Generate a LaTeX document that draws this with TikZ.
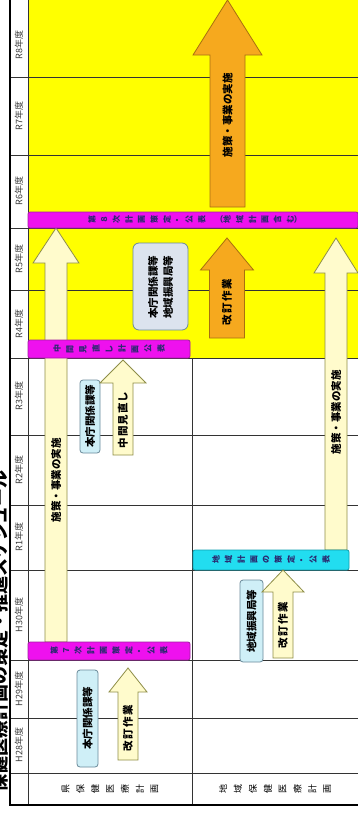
\documentclass[tikz,border=0pt]{standalone}
\usepackage{fontspec}
\usepackage{graphicx}
\setmainfont{Noto Sans CJK JP}
\makeatletter
\newcommand\tate[2]{\@tfor\tt@c:=#2\do{\rotatebox[origin=c]{90}{\tt@c}\hspace{#1}}\unskip}
\makeatother
\definecolor{yel}{HTML}{FFFF00}
\definecolor{mag}{HTML}{EE11EE}
\definecolor{magd}{HTML}{A020A0}
\definecolor{cya}{HTML}{22DDF0}
\definecolor{cyad}{HTML}{10A0B0}
\definecolor{lyel}{HTML}{FFFBCC}
\definecolor{lyeld}{HTML}{8E8E48}
\definecolor{lblue}{HTML}{CFEFF7}
\definecolor{lblued}{HTML}{6A8A9A}
\definecolor{lgrey}{HTML}{DCE3EE}
\definecolor{org}{HTML}{F6A91E}
\definecolor{orgd}{HTML}{A87010}
\definecolor{bartxt}{HTML}{2A2A70}
\definecolor{gridc}{HTML}{333333}
\definecolor{yrtxt}{HTML}{3A3A3A}
\newcommand\uparr[7]{% style, xc, ytip, ybase, ybot, shaft half, head half
  \draw[#1] (#2-#6,#5) -- (#2-#6,#4) -- (#2-#7,#4) -- (#2,#3) -- (#2+#7,#4) -- (#2+#6,#4) -- (#2+#6,#5) -- cycle;}
\tikzset{
  grid/.style={draw=gridc, line width=0.8pt},
  thick border/.style={draw=black, line width=2pt},
  yr/.style={font=\fontsize{9}{9}\selectfont, text=yrtxt, inner sep=0pt},
  atxt/.style={font=\fontsize{10.5}{12}\selectfont\bfseries, text=black, inner sep=0pt, rotate=90},
  bartext/.style={font=\fontsize{8}{8}\selectfont\bfseries, text=bartxt, inner sep=0pt},
  magbar/.style={fill=mag, draw=magd, line width=0.8pt, rounded corners=2pt},
  cyabar/.style={fill=cya, draw=cyad, line width=0.8pt, rounded corners=2pt},
  pbox/.style={fill=lblue, draw=lblued, line width=0.8pt, rounded corners=3pt},
  gbox/.style={fill=lgrey, draw=lblued, line width=0.8pt, rounded corners=6pt},
  larrow/.style={fill=lyel, draw=lyeld, line width=0.8pt},
  oarrow/.style={fill=org, draw=orgd, line width=0.8pt},
}
\begin{document}
\begin{tikzpicture}[x=1pt,y=-1pt]
\useasboundingbox (0,0) rectangle (358,814);
\clip (0,0) rectangle (358,814);
\fill[white] (0,0) rectangle (358,814);
% yellow period
\fill[yel] (28,0) rectangle (358,358);
% year grid lines
\foreach \yy in {77,155,228,290,358,435,505,570,660,718,773}{
  \draw[grid] (10,\yy) -- (358,\yy);
}
\draw[grid] (28,0) -- (28,805);
\draw[grid] (192,358) -- (192,805);
\draw[thick border] (10,0) -- (10,805) -- (358,805);
% year labels
\node[yr, rotate=90] (r8) at (19,45) {R8年度};
\node[yr, rotate=90] (r7) at (19,116) {R7年度};
\node[yr, rotate=90] (r6) at (19,191) {R6年度};
\node[yr, rotate=90] (r5) at (19,259) {R5年度};
\node[yr, rotate=90] (r4) at (19,324) {R4年度};
\node[yr, rotate=90] (r3) at (19,396) {R3年度};
\node[yr, rotate=90] (r2) at (19,470) {R2年度};
\node[yr, rotate=90] (r1) at (19,537) {R1年度};
\node[yr, rotate=90] (h30) at (19,615) {H30年度};
\node[yr, rotate=90] (h29) at (19,689) {H29年度};
\node[yr, rotate=90] (h28) at (19,745) {H28年度};
% row labels
\node[font=\fontsize{9}{9}\selectfont, text=black, inner sep=0pt] (row1) at (110,789) {\tate{0.75em}{県保健医療計画}};
\node[font=\fontsize{9}{9}\selectfont, text=black, inner sep=0pt] (row2) at (275,789) {\tate{0.75em}{地域保健医療計画}};
% title (clipped at the page edge, as in the reference)
\node[rotate=90, anchor=east, font=\fontsize{18}{18}\selectfont\bfseries, inner sep=0pt] (title) at (0,470) {保健医療計画の策定・推進スケジュール};

% ---- row 1 ----
\uparr{larrow}{56}{228}{263}{642}{11}{23}
\node[atxt] (a1t) at (56,480) {施策・事業の実施};
\draw[pbox] (77,670) rectangle (98,767);
\node[atxt] (b1t) at (87.5,718) {本庁関係課等};
\uparr{larrow}{128}{668}{692}{760}{10}{19}
\node[atxt] (a2t) at (128,728) {\addfontfeature{LetterSpace=15}改訂作業};
\draw[magbar] (28,642) rectangle (190,660);
\node[bartext] (m1t) at (109,651) {\tate{0.65em}{第７次計画策定・公表}};

\draw[pbox] (80,380) rectangle (100,453);
\node[atxt] (b2t) at (90,416) {本庁関係課等};
\uparr{larrow}{123}{360}{383}{455}{10}{23}
\node[atxt] (a3t) at (123,420) {\addfontfeature{LetterSpace=10}中間見直し};
\draw[magbar] (28,340) rectangle (190,358);
\node[bartext] (m2t) at (109,349) {\tate{0.7em}{中間見直し計画公表}};

% ---- yellow period ----
\draw[gbox] (133,243) rectangle (188,330);
\node[atxt, align=center] (b3t) at (160.5,287) {本庁関係課等\\[3pt]地域振興局等};
\uparr{oarrow}{227}{238}{270}{338}{17.5}{26.5}
\node[atxt] (a4t) at (227,302) {\addfontfeature{LetterSpace=15}改訂作業};
\uparr{larrow}{336}{238}{273}{550}{11}{22}
\node[atxt] (a5t) at (336,412) {施策・事業の実施};
\uparr{oarrow}{227.5}{0}{55}{207}{17.5}{34.5}
\node[atxt] (a6t) at (227.5,115) {施策・事業の実施};
\draw[magbar] (28,212) rectangle (358,228);
\node[bartext] (m3t) at (195,220) {\tate{0.65em}{第８次計画策定・公表}\hspace{1.2em}（\tate{0.65em}{地域計画含む}）};

% ---- row 2 ----
\draw[cyabar] (193,550) rectangle (349,570);
\node[bartext] (c1t) at (271,560) {\tate{0.65em}{地域計画の策定・公表}};
\draw[pbox] (240,580) rectangle (263,662);
\node[atxt] (b4t) at (251.5,621) {地域振興局等};
\uparr{larrow}{283}{570}{592}{658}{10}{21}
\node[atxt] (a7t) at (283,625) {\addfontfeature{LetterSpace=15}改訂作業};
\end{tikzpicture}
\end{document}
